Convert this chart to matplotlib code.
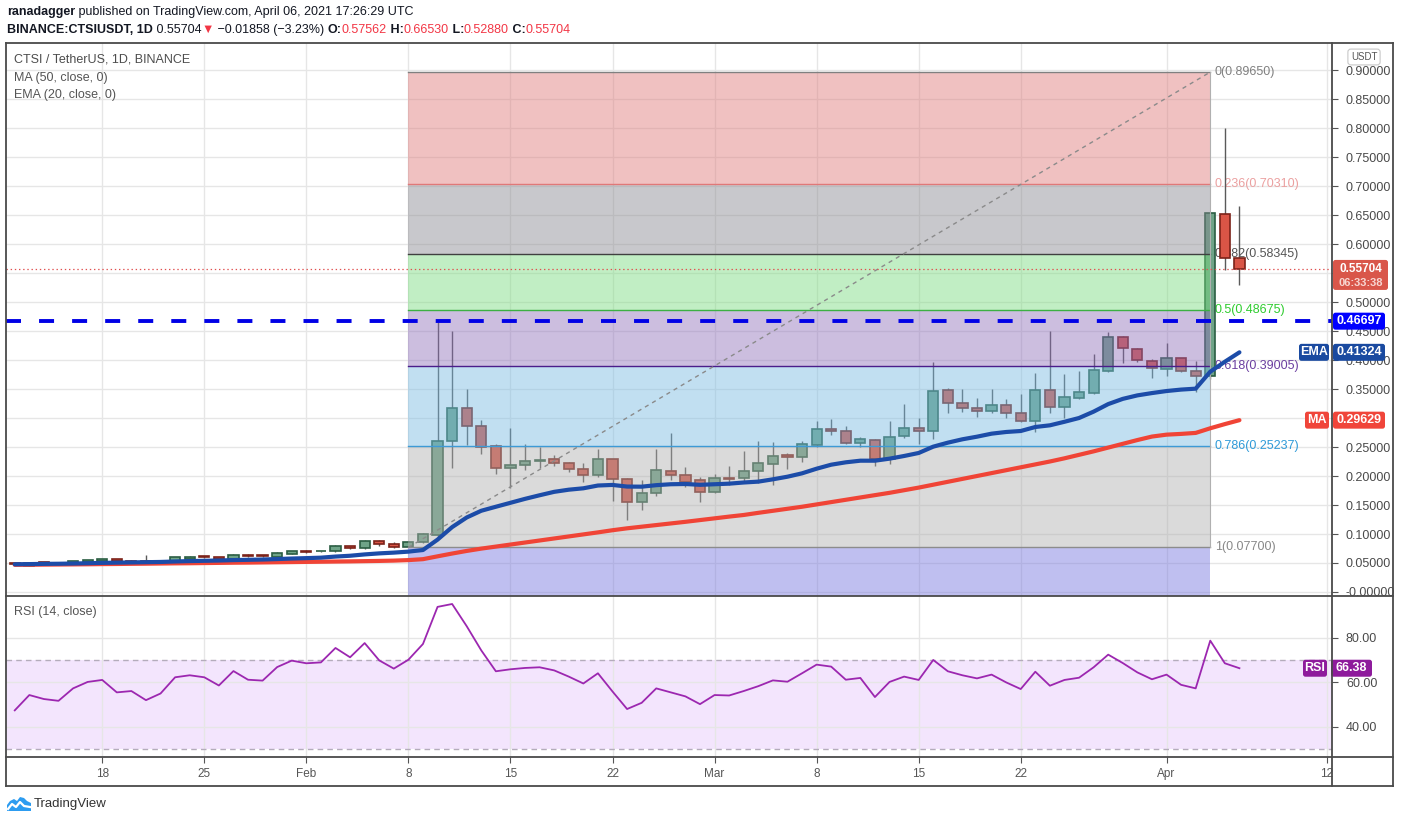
import numpy as np
import pandas as pd
import matplotlib
matplotlib.use("Agg")
import matplotlib.pyplot as plt
import matplotlib.dates as mdates
from matplotlib.patches import Rectangle, Polygon, FancyBboxPatch
from matplotlib.lines import Line2D
from matplotlib.transforms import IdentityTransform

W, H = 1402, 823
FAM = ["Liberation Sans", "DejaVu Sans"]

# daily candles, 12 Jan .. 6 Apr 2021
dates = pd.date_range("2021-01-12", "2021-04-06", freq="D")

opens = [
    0.0490, 0.0450, 0.0512, 0.0495, 0.0478, 0.0518, 0.0540, 0.0563, 0.0525, 0.0530,
    0.0518, 0.0530, 0.0575, 0.0610, 0.0603, 0.0577, 0.0638, 0.0625, 0.0612, 0.0660,
    0.0707, 0.0700, 0.0701, 0.0787, 0.0753, 0.0879, 0.0828, 0.0780, 0.0856, 0.0988,
    0.2600, 0.3167, 0.2857, 0.2517, 0.2132, 0.2184, 0.2253, 0.2287, 0.2218, 0.2115,
    0.2011, 0.2287, 0.1943, 0.1546, 0.1701, 0.2080, 0.2011, 0.1925,
    0.1718, 0.1966, 0.1960, 0.2092, 0.2213, 0.2362, 0.2322, 0.2540, 0.2805, 0.2770,
    0.2563, 0.2615, 0.2287, 0.2690, 0.2822, 0.2770, 0.3477, 0.3253, 0.3167, 0.3115,
    0.3218, 0.3081, 0.2943, 0.3483, 0.3195, 0.3350, 0.3425, 0.3805, 0.4391, 0.4184,
    0.3988,
    0.3840, 0.4029, 0.3805, 0.3718, 0.6512, 0.57562,
]
highs = [
    0.0500, 0.0512, 0.0515, 0.0505, 0.0535, 0.0552, 0.0575, 0.0570, 0.0545, 0.0638,
    0.0545, 0.0610, 0.0615, 0.0618, 0.0610, 0.0650, 0.0650, 0.0640, 0.0685, 0.0715,
    0.0720, 0.0715, 0.0805, 0.0800, 0.0895, 0.0890, 0.0860, 0.0875, 0.1010, 0.4660,
    0.4500, 0.3500, 0.2966, 0.2552, 0.2828, 0.2552, 0.2500, 0.2368, 0.2250, 0.2220,
    0.2466, 0.2290, 0.1960, 0.1930, 0.2466, 0.2741, 0.2155, 0.1983,
    0.2030, 0.2167, 0.2431, 0.2603, 0.2592, 0.2397, 0.2603, 0.2948, 0.2983, 0.2862,
    0.2680, 0.2640, 0.2948, 0.3241, 0.3006, 0.3966, 0.3520, 0.3506, 0.3351, 0.3506,
    0.3333, 0.3420, 0.3776, 0.4500, 0.3759, 0.3810, 0.4103, 0.4477, 0.4410, 0.4207,
    0.4010,
    0.4287, 0.4040, 0.3980, 0.6540, 0.7994, 0.6653,
]
lows = [
    0.0462, 0.0445, 0.0485, 0.0472, 0.0470, 0.0505, 0.0535, 0.0525, 0.0515, 0.0512,
    0.0495, 0.0525, 0.0565, 0.0590, 0.0568, 0.0570, 0.0610, 0.0605, 0.0605, 0.0655,
    0.0680, 0.0690, 0.0695, 0.0745, 0.0745, 0.0800, 0.0760, 0.0770, 0.0840, 0.0950,
    0.2140, 0.2534, 0.2385, 0.2040, 0.1800, 0.2110, 0.2130, 0.2180, 0.2070, 0.1903,
    0.1990, 0.1575, 0.1247, 0.1420, 0.1660, 0.1930, 0.1810, 0.1550,
    0.1700, 0.1840, 0.1900, 0.1880, 0.1840, 0.2120, 0.2236, 0.2500, 0.2713, 0.2550,
    0.2500, 0.2180, 0.2200, 0.2660, 0.2560, 0.2638, 0.3092, 0.3110, 0.3022, 0.3090,
    0.3006, 0.2925, 0.2764, 0.3092, 0.3000, 0.3330, 0.3410, 0.3790, 0.3954, 0.3960,
    0.3695,
    0.3724, 0.3800, 0.3448, 0.3672, 0.5552, 0.5288,
]
closes = [
    0.0478, 0.0505, 0.0490, 0.0480, 0.0530, 0.0546, 0.0569, 0.0530, 0.0520, 0.0518,
    0.0525, 0.0603, 0.0603, 0.0600, 0.0577, 0.0638, 0.0620, 0.0615, 0.0672, 0.0707,
    0.0690, 0.0705, 0.0793, 0.0759, 0.0879, 0.0822, 0.0782, 0.0862, 0.0994, 0.2600,
    0.3167, 0.2857, 0.2505, 0.2132, 0.2184, 0.2253, 0.2264, 0.2218, 0.2115, 0.2011,
    0.2287, 0.1943, 0.1546, 0.1701, 0.2098, 0.2011, 0.1902, 0.1718,
    0.1960, 0.1949, 0.2080, 0.2218, 0.2340, 0.2322, 0.2546, 0.2805, 0.2770, 0.2563,
    0.2632, 0.2287, 0.2672, 0.2822, 0.2770, 0.3460, 0.3253, 0.3167, 0.3115, 0.3218,
    0.3080, 0.2943, 0.3483, 0.3184, 0.3356, 0.3443, 0.3822, 0.4391, 0.4201, 0.4000,
    0.3856,
    0.4029, 0.3810, 0.3718, 0.6530, 0.57562, 0.55704,
]
ema20 = [
    0.0478, 0.0481, 0.0485, 0.0487, 0.0491, 0.0496, 0.0502, 0.0506, 0.0510, 0.0514,
    0.0518, 0.0526, 0.0533, 0.0538, 0.0543, 0.0550, 0.0555, 0.0560, 0.0568, 0.0577,
    0.0584, 0.0592, 0.0611, 0.0625, 0.0648, 0.0666, 0.0679, 0.0696, 0.0724, 0.0903,
    0.1119, 0.1285, 0.1401, 0.1470, 0.1538, 0.1606, 0.1668, 0.1727, 0.1764, 0.1788,
    0.1836, 0.1846, 0.1818, 0.1816, 0.1842, 0.1858, 0.1862, 0.1848,
    0.1858, 0.1868, 0.1888, 0.1903, 0.1943, 0.1988, 0.2046, 0.2126, 0.2195, 0.2236,
    0.2264, 0.2264, 0.2299, 0.2345, 0.2397, 0.2506, 0.2575, 0.2633, 0.2678, 0.2730,
    0.2759, 0.2776, 0.2845, 0.2874, 0.2935, 0.3000, 0.3110, 0.3240, 0.3330, 0.3390,
    0.3430,
    0.3465, 0.3490, 0.3506, 0.3799, 0.3970, 0.41324,
]
ma50 = [
    0.0468, 0.0470, 0.0472, 0.0474, 0.0476, 0.0478, 0.0481, 0.0483, 0.0486, 0.0488,
    0.0491, 0.0494, 0.0496, 0.0499, 0.0502, 0.0505, 0.0507, 0.0510, 0.0513, 0.0516,
    0.0519, 0.0522, 0.0525, 0.0528, 0.0532, 0.0536, 0.0541, 0.0550, 0.0566, 0.0615,
    0.0663, 0.0708, 0.0748, 0.0783, 0.0818, 0.0853, 0.0888, 0.0923, 0.0958, 0.0993,
    0.1028, 0.1065, 0.1098, 0.1126, 0.1154, 0.1182, 0.1210, 0.1240,
    0.1270, 0.1300, 0.1328, 0.1365, 0.1400, 0.1435, 0.1470, 0.1510, 0.1550, 0.1590,
    0.1630, 0.1670, 0.1710, 0.1755, 0.1800, 0.1850, 0.1900, 0.1950, 0.2000, 0.2050,
    0.2100, 0.2150, 0.2200, 0.2250, 0.2305, 0.2365, 0.2425, 0.2490, 0.2555, 0.2620,
    0.2680,
    0.2713, 0.2726, 0.2743, 0.2823, 0.2895, 0.29629,
]
rsi14 = [
    47.4, 54.3, 52.5, 51.7, 57.3, 60.2, 61.1, 55.5, 56.1, 52.0,
    55.0, 62.3, 63.2, 62.3, 58.6, 65.1, 61.2, 60.8, 66.9, 69.8,
    68.6, 69.0, 75.5, 71.3, 77.7, 69.9, 66.2, 70.2, 77.3, 94.0,
    95.3, 85.3, 74.4, 65.0, 65.9, 66.5, 66.8, 65.4, 62.6, 59.5,
    64.1, 55.9, 48.0, 50.8, 57.3, 55.5, 53.7, 50.2,
    54.3, 54.1, 56.1, 58.3, 60.9, 60.3, 64.1, 68.0, 67.1, 61.2,
    62.0, 53.4, 60.2, 62.6, 61.1, 70.1, 65.0, 63.2, 61.8, 63.5,
    60.0, 57.0, 64.8, 58.5, 61.1, 62.1, 66.8, 72.5, 68.7, 64.5,
    61.4,
    63.5, 58.9, 57.3, 78.8, 68.6, 66.38,
]

# fibonacci retracement drawn from 8 Feb to 4 Apr
fib_start, fib_end = "2021-02-08", "2021-04-04"
fib_levels = ["0", "0.236", "0.382", "0.5", "0.618", "0.786", "1"]
fib_prices = [0.89650, 0.70310, 0.58345, 0.48675, 0.39005, 0.25237, 0.07700]
fib_ext_price = -0.4294  # 1.618 level, below the visible range
fib_zone_colors = ["#de7777", "#87878f", "#77db7c", "#8f70ba", "#77bae2", "#adadad", "#7373de"]
fib_line_colors = ["#808080", "#e07878", "#404040", "#3cb043", "#4a1d8a", "#3d9ad6", "#8c8c8c"]
fib_text_colors = ["#808080", "#eba0a0", "#555555", "#2fcc2f", "#6b3fa0", "#2e9ad8", "#888888"]

resistance = 0.46697
last_price = 0.55704
countdown = "06:33:38"
price_ticks = [0.00, 0.05, 0.10, 0.15, 0.20, 0.25, 0.30, 0.35, 0.40, 0.45,
               0.50, 0.55, 0.60, 0.65, 0.70, 0.75, 0.80, 0.85, 0.90]
hidden_ticks = [0.30, 0.55]  # fully covered by the MA and last-price tags
rsi_ticks = [40, 60, 80]
date_ticks = ["2021-01-18", "2021-01-25", "2021-02-01", "2021-02-08", "2021-02-15",
              "2021-02-22", "2021-03-01", "2021-03-08", "2021-03-15", "2021-03-22",
              "2021-04-01", "2021-04-12"]
date_labels = ["18", "25", "Feb", "8", "15", "22", "Mar", "8", "15", "22", "Apr", "12"]


def rect(x0, y0, x1, y1):
    return [x0 / W, 1 - y1 / H, (x1 - x0) / W, (y1 - y0) / H]


def runs(fig, x, y, parts, size):
    '''Draws text pieces one after another on one line.'''
    r = fig.canvas.get_renderer()
    for s, color, weight in parts:
        t = fig.text(x / W, 1 - y / H, s, color=color, fontweight=weight,
                     fontsize=size, va="center", ha="left", family=FAM)
        x += t.get_window_extent(renderer=r).width


def box(fig, x0, y0, x1, y1, color):
    fig.add_artist(FancyBboxPatch((x0, H - y1), x1 - x0, y1 - y0,
                                  boxstyle="round,pad=0,rounding_size=2.5",
                                  transform=IdentityTransform(),
                                  fc=color, ec="none", zorder=5))


def tag(fig, x0, x1, yc, h, color, text, tcolor="white", size=9):
    box(fig, x0, yc - h / 2, x1, yc + h / 2, color)
    fig.text((x0 + x1) / 2 / W, 1 - yc / H, text, ha="center", va="center",
             color=tcolor, fontsize=size, fontweight="bold", family=FAM, zorder=6)


def draw_candles(ax, x):
    for i in range(len(x)):
        o, h, l, c = opens[i], highs[i], lows[i], closes[i]
        up = c >= o
        ax.vlines(x[i], l, h, color="#5a5a5a", lw=1, zorder=2)
        bottom = min(o, c)
        height = max(abs(c - o), 0.0015)
        ax.add_patch(Rectangle((x[i] - 0.35, bottom), 0.70, height,
                               fc="#6fa488" if up else "#d95546",
                               ec="#2b5e43" if up else "#7c2219",
                               lw=1.2, zorder=2.2))


def main():
    plt.rcParams["font.family"] = FAM
    plt.rcParams["lines.scale_dashes"] = False
    fig = plt.figure(figsize=(W / 100, H / 100), dpi=100, facecolor="white")

    ax = fig.add_axes(rect(6, 43, 1332, 596))
    rsi = fig.add_axes(rect(6, 596, 1332, 757), sharex=ax)

    x = mdates.date2num(dates)
    ax.set_xlim(x[0] - 0.6, mdates.date2num(pd.Timestamp("2021-04-12")) + 0.35)
    ax.set_ylim(-0.0069, 0.9466)
    rsi.set_ylim(26.4, 98.9)

    for a in (ax, rsi):
        for s in a.spines.values():
            s.set_visible(False)
        a.set_axisbelow(True)
        a.grid(True, color="#e6e6e6", lw=1)

    tick_x = mdates.date2num(pd.to_datetime(date_ticks))
    rsi.set_xticks(tick_x)
    rsi.set_xticklabels(date_labels)
    rsi.tick_params(axis="x", length=4, pad=4, color="#555555",
                    labelsize=8.5, labelcolor="#555555")
    ax.tick_params(axis="x", length=0, labelbottom=False)

    ax.yaxis.tick_right()
    ax.set_yticks(price_ticks)
    ax.set_yticklabels(["" if p in hidden_ticks else ("-0.00000" if p == 0 else f"{p:.5f}")
                        for p in price_ticks])
    ax.tick_params(axis="y", length=4, pad=6, color="#555555",
                   labelsize=9, labelcolor="#4a4a4a")
    rsi.yaxis.tick_right()
    rsi.set_yticks(rsi_ticks)
    rsi.set_yticklabels([f"{v:.2f}" for v in rsi_ticks])
    rsi.tick_params(axis="y", length=4, pad=6, color="#555555",
                    labelsize=9, labelcolor="#4a4a4a")

    draw_candles(ax, x)

    # fibonacci zones over the candles
    fx0 = mdates.date2num(pd.Timestamp(fib_start))
    fx1 = mdates.date2num(pd.Timestamp(fib_end))
    bounds = fib_prices + [fib_ext_price]
    for i in range(len(bounds) - 1):
        ax.fill_between([fx0, fx1], bounds[i], bounds[i + 1],
                        color=fib_zone_colors[i], alpha=0.45, lw=0, zorder=3)
    for lvl, p, lc, tc in zip(fib_levels, fib_prices, fib_line_colors, fib_text_colors):
        ax.plot([fx0, fx1], [p, p], color=lc, lw=1, zorder=3.5)
        ax.text(fx1 + 0.3, p, f"{lvl}({p:.5f})", color=tc, fontsize=9,
                va="center", ha="left", zorder=1.8)
    ax.plot([fx1, fx1], [fib_prices[-1], fib_prices[0]], color="#b0b0b0", lw=0.8, zorder=3.5)
    ax.plot([fx0, fx1], [fib_prices[-1], fib_prices[0]], color="#8a8a8a", lw=1,
            dashes=(3, 3), zorder=3.6)

    ax.plot(x, ma50, color="#f04436", lw=3, zorder=4, solid_capstyle="round")
    ax.plot(x, ema20, color="#1c4ca8", lw=3, zorder=4.1, solid_capstyle="round")

    ax.axhline(resistance, color="#0000e6", lw=2.8, dashes=(10.8, 13), zorder=4.5)
    ax.axhline(last_price, color="#e05050", lw=0.9, dashes=(1, 2), zorder=4.4)

    # RSI pane
    rsi.axhspan(30, 70, color="#f3e5fd", lw=0, zorder=0.5)
    rsi.axhline(70, color="#b4acbb", lw=1, dashes=(4, 3), zorder=1)
    rsi.axhline(30, color="#b4acbb", lw=1, dashes=(4, 3), zorder=1)
    rsi.plot(x, rsi14, color="#9c27b0", lw=1.3, zorder=3)

    # frame and separators
    frame = "#4a4a4a"
    fig.add_artist(Rectangle((1333 / W, 1 - 786 / H), 60 / W, 29 / H,
                             transform=fig.transFigure, fc="white", ec="none", zorder=4))
    for (x0, y0, x1, y1) in [(6, 43, 1393, 43), (6, 786, 1393, 786), (6, 43, 6, 786),
                             (1393, 43, 1393, 786), (6, 596, 1393, 596),
                             (6, 757, 1393, 757), (1332, 43, 1332, 786)]:
        fig.add_artist(Line2D([x0 / W, x1 / W], [1 - y0 / H, 1 - y1 / H],
                              transform=fig.transFigure, color=frame, lw=1.3, zorder=7))

    # right axis tags
    def py(a, p):
        return H - a.transData.transform((a.get_xlim()[0], p))[1]

    yp = py(ax, last_price)
    box(fig, 1333, yp - 9, 1388, yp + 21, "#d9564a")
    fig.text(1360.5 / W, 1 - yp / H, f"{last_price:.5f}", ha="center", va="center",
             color="white", fontsize=8.5, fontweight="bold", zorder=6)
    fig.text(1360.5 / W, 1 - (yp + 14) / H, countdown, ha="center", va="center",
             color="#f7d6d2", fontsize=8, fontweight="bold", zorder=6)
    tag(fig, 1333, 1385, py(ax, resistance), 17, "#0000ff", f"{resistance:.5f}")
    tag(fig, 1299, 1329, py(ax, ema20[-1]), 17, "#1a4aa0", "EMA")
    tag(fig, 1333, 1385, py(ax, ema20[-1]), 17, "#1a4aa0", f"{ema20[-1]:.5f}")
    tag(fig, 1305, 1329, py(ax, ma50[-1]), 17, "#f0453a", "MA")
    tag(fig, 1333, 1385, py(ax, ma50[-1]), 17, "#f0453a", f"{ma50[-1]:.5f}")
    tag(fig, 1303, 1327, py(rsi, rsi14[-1]), 17, "#8e1b9c", "RSI")
    tag(fig, 1331, 1372, py(rsi, rsi14[-1]), 17, "#8e1b9c", f"{rsi14[-1]:.2f}")

    # USDT box
    fig.text(1364 / W, 1 - 57 / H, "USDT", ha="center", va="center", fontsize=7,
             color="#555555", zorder=6,
             bbox=dict(boxstyle="round,pad=0.3", fc="white", ec="#c8c8c8", lw=0.8))

    # legend texts
    fig.text(14 / W, 1 - 60 / H, "CTSI / TetherUS, 1D, BINANCE", fontsize=9,
             color="#4d4d4d", va="center")
    fig.text(14 / W, 1 - 78 / H, "MA (50, close, 0)", fontsize=9, color="#555555", va="center")
    fig.text(14 / W, 1 - 95 / H, "EMA (20, close, 0)", fontsize=9, color="#555555", va="center")
    fig.text(14 / W, 1 - 612 / H, "RSI (14, close)", fontsize=9, color="#555555", va="center")

    # header
    red = "#f23645"
    runs(fig, 7, 12, [("ranadagger", "#131722", "bold"),
                      (" published on TradingView.com, April 06, 2021 17:26:29 UTC", "#131722", "normal")], 9)
    runs(fig, 7, 30, [("BINANCE:CTSIUSDT, 1D", "#131722", "bold"),
                      (" 0.55704", "#131722", "normal"),
                      ("\u25bc", red, "normal"),
                      (" \u22120.01858 (\u22123.23%) ", "#131722", "normal"),
                      ("O:", "#131722", "bold"), ("0.57562", red, "normal"),
                      (" H:", "#131722", "bold"), ("0.66530", red, "normal"),
                      (" L:", "#131722", "bold"), ("0.52880", red, "normal"),
                      (" C:", "#131722", "bold"), ("0.55704", red, "normal")], 9)

    # TradingView logo
    logo = fig.add_axes(rect(7, 795, 31, 813))
    logo.axis("off")
    logo.set_xlim(0, 24)
    logo.set_ylim(0, 18)
    logo.add_patch(Polygon([(0, 2), (0, 8), (3, 12), (7, 14), (10, 12), (13, 16), (17, 15),
                            (20, 12), (24, 10), (24, 2)], fc="#2d9cf0", ec="none"))
    logo.plot([1, 5, 9, 13, 17, 23], [4, 9, 6, 11, 7, 6], color="white", lw=1.6)
    fig.text(34 / W, 1 - 804 / H, "TradingView", fontsize=9.5, color="#333333", va="center")

    fig.savefig("out.png", dpi=100, facecolor="white")


if __name__ == "__main__":
    main()
